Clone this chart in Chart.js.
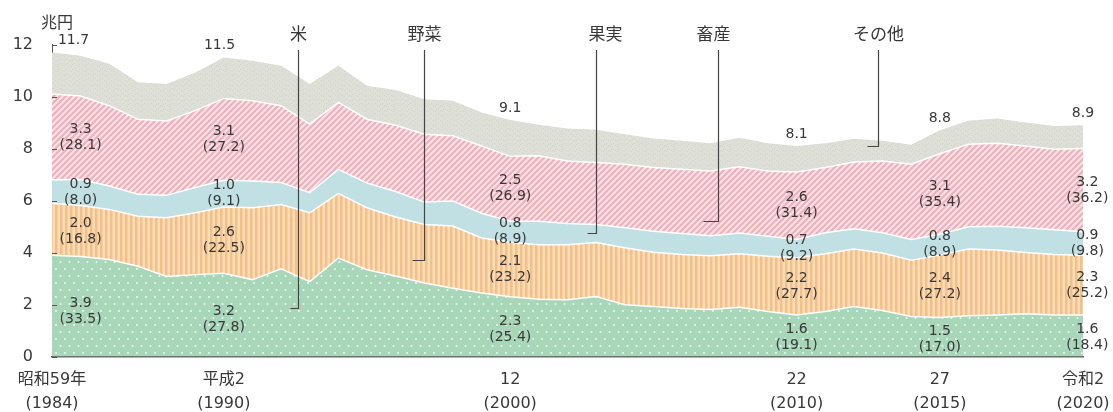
<!DOCTYPE html>
<html lang="ja">
<head>
<meta charset="utf-8">
<title>農業総産出額の推移</title>
<script src="https://cdn.jsdelivr.net/npm/chart.js@4.4.1/dist/chart.umd.min.js"></script>
<style>
	html, body { margin: 0; padding: 0; background: #fff; }
	.chart { position: relative; width: 1113px; height: 412px; }
</style>
</head>
<body>
<div class="chart"><canvas id="chart"></canvas></div>
<script>
const years = [
	1984, 1985, 1986, 1987, 1988, 1989, 1990, 1991, 1992, 1993, 1994, 1995, 1996,
	1997, 1998, 1999, 2000, 2001, 2002, 2003, 2004, 2005, 2006, 2007, 2008,
	2009, 2010, 2011, 2012, 2013, 2014, 2015, 2016, 2017, 2018, 2019, 2020,
];

// 兆円
const rice = [
	3.9, 3.85, 3.73, 3.47, 3.08, 3.15, 3.2, 2.95, 3.37, 2.88, 3.79, 3.34, 3.1,
	2.83, 2.63, 2.44, 2.3, 2.2, 2.18, 2.31, 1.99, 1.92, 1.85, 1.81, 1.89,
	1.73, 1.6, 1.73, 1.92, 1.77, 1.54, 1.5, 1.57, 1.6, 1.64, 1.6, 1.6,
];
const vegetables = [
	2.0, 1.96, 1.93, 1.93, 2.26, 2.38, 2.55, 2.77, 2.48, 2.65, 2.49, 2.38, 2.27,
	2.25, 2.39, 2.12, 2.1, 2.1, 2.12, 2.08, 2.19, 2.09, 2.07, 2.07, 2.06,
	2.13, 2.2, 2.22, 2.22, 2.21, 2.16, 2.4, 2.57, 2.5, 2.36, 2.32, 2.3,
];
const fruit = [
	0.9, 1.0, 0.9, 0.84, 0.86, 0.97, 1.03, 1.03, 0.84, 0.77, 0.92, 0.95, 0.98,
	0.86, 0.96, 0.95, 0.8, 0.9, 0.82, 0.69, 0.77, 0.81, 0.81, 0.77, 0.8,
	0.77, 0.7, 0.81, 0.77, 0.78, 0.8, 0.8, 0.85, 0.91, 0.95, 0.96, 0.9,
];
const livestock = [
	3.3, 3.21, 3.09, 2.89, 2.86, 2.96, 3.15, 3.09, 2.96, 2.64, 2.58, 2.46, 2.55,
	2.61, 2.51, 2.59, 2.5, 2.52, 2.4, 2.38, 2.45, 2.45, 2.47, 2.49, 2.55,
	2.51, 2.6, 2.51, 2.57, 2.76, 2.9, 3.1, 3.18, 3.19, 3.15, 3.09, 3.2,
];
const others = [
	1.6, 1.55, 1.61, 1.42, 1.42, 1.47, 1.57, 1.54, 1.54, 1.54, 1.41, 1.29, 1.35,
	1.35, 1.35, 1.29, 1.4, 1.2, 1.25, 1.26, 1.15, 1.12, 1.1, 1.06, 1.12,
	1.06, 1.0, 0.93, 0.9, 0.78, 0.75, 0.9, 0.9, 0.96, 0.9, 0.9, 0.9,
];

const seriesNames = ["米", "野菜", "果実", "畜産", "その他"];

const tickYears = [1984, 1990, 2000, 2010, 2015, 2020];
const tickEras = ["昭和59年", "平成2", "12", "22", "27", "令和2"];

// labels written inside the bands: amount (share %)
const labelYears = [1984, 1990, 2000, 2010, 2015, 2020];
const totals = ["11.7", "11.5", "9.1", "8.1", "8.8", "8.9"];
const riceAmounts = ["3.9", "3.2", "2.3", "1.6", "1.5", "1.6"];
const riceShares = ["33.5", "27.8", "25.4", "19.1", "17.0", "18.4"];
const vegAmounts = ["2.0", "2.6", "2.1", "2.2", "2.4", "2.3"];
const vegShares = ["16.8", "22.5", "23.2", "27.7", "27.2", "25.2"];
const fruitAmounts = ["0.9", "1.0", "0.8", "0.7", "0.8", "0.9"];
const fruitShares = ["8.0", "9.1", "8.9", "9.2", "8.9", "9.8"];
const livestockAmounts = ["3.3", "3.1", "2.5", "2.6", "3.1", "3.2"];
const livestockShares = ["28.1", "27.2", "26.9", "31.4", "35.4", "36.2"];

const font = "'DejaVu Sans', 'Noto Sans CJK JP', sans-serif";
const jpFont = "'Noto Sans CJK JP', sans-serif";
const ink = "#383838";

const makePattern = (w, h, draw) => {
	const c = document.createElement("canvas");
	c.width = w;
	c.height = h;
	const ctx = c.getContext("2d");
	draw(ctx);
	return ctx.createPattern(c, "repeat");
};

const dots = makePattern(9, 14, ctx => {
	ctx.fillStyle = "#a8d6b9";
	ctx.fillRect(0, 0, 9, 14);
	ctx.fillStyle = "rgba(255,255,255,0.8)";
	[[2, 3], [6.5, 10]].forEach(([x, y]) => {
		ctx.beginPath();
		ctx.arc(x, y, 1, 0, Math.PI * 2);
		ctx.fill();
	});
});

const stripes = makePattern(5, 2, ctx => {
	ctx.fillStyle = "#fbdcb4";
	ctx.fillRect(0, 0, 5, 2);
	ctx.fillStyle = "#f3c08b";
	ctx.fillRect(0, 0, 2.5, 2);
});

const hatch = makePattern(6, 6, ctx => {
	ctx.fillStyle = "#fae3e6";
	ctx.fillRect(0, 0, 6, 6);
	ctx.strokeStyle = "#eeb1bc";
	ctx.lineWidth = 2.2;
	ctx.beginPath();
	ctx.moveTo(0, 6);
	ctx.lineTo(6, 0);
	ctx.moveTo(-1, 1);
	ctx.lineTo(1, -1);
	ctx.moveTo(5, 7);
	ctx.lineTo(7, 5);
	ctx.stroke();
});

const speckle = makePattern(7, 5, ctx => {
	ctx.fillStyle = "#dedfd7";
	ctx.fillRect(0, 0, 7, 5);
	ctx.fillStyle = "#d2d3cb";
	[[1, 1], [4, 3], [6, 0], [2, 4]].forEach(([x, y]) => ctx.fillRect(x, y, 1, 1));
});

const fills = [dots, stripes, "#c0e0e4", hatch, speckle];
const seriesData = [rice, vegetables, fruit, livestock, others];

const datasets = seriesData.map((data, i) => ({
	label: seriesNames[i],
	data,
	backgroundColor: fills[i],
	borderColor: "#fff",
	borderWidth: i === 4 ? 0 : 1.5,
	fill: i ? "-1" : "origin",
	pointRadius: 0,
	tension: 0,
}));

const tickLabel = value => {
	const i = tickYears.indexOf(value);
	return i < 0 ? "" : [tickEras[i], `(${value})`];
};

const stackAt = (idx, upto) =>
	seriesData.slice(0, upto).reduce((sum, d) => sum + d[idx], 0);

// where the 5 leader lines point to
const callouts = [
	{ year: 1992.6, value: 1.87, stub: 8, dx: 0 },
	{ year: 1997.0, value: 3.73, stub: 12, dx: 0 },
	{ year: 2003.0, value: 4.77, stub: 9, dx: 9 },
	{ year: 2007.25, value: 5.23, stub: 15, dx: -5 },
	{ year: 2012.85, value: 8.09, stub: 11, dx: 0 },
];

const annotations = {
	id: "annotations",
	afterDatasetsDraw(chart) {
		const { ctx, chartArea, scales: { x, y } } = chart;
		ctx.save();

		// inward ticks on the y axis
		ctx.strokeStyle = "#555";
		ctx.lineWidth = 1;
		y.ticks.forEach(t => {
			const py = Math.round(y.getPixelForValue(t.value)) + 0.5;
			ctx.beginPath();
			ctx.moveTo(chartArea.left, py);
			ctx.lineTo(chartArea.left + 5, py);
			ctx.stroke();
		});

		ctx.fillStyle = ink;
		ctx.textAlign = "center";
		ctx.textBaseline = "middle";
		ctx.font = `16px ${jpFont}`;
		ctx.fillText("兆円", 57, 22);

		// amounts and shares
		ctx.font = `14px ${font}`;
		const amounts = [riceAmounts, vegAmounts, fruitAmounts, livestockAmounts];
		const shares = [riceShares, vegShares, fruitShares, livestockShares];
		const shift = [1, 0, 0, 0, 0, 0.15];
		const totalShift = [0.75, -0.15, 0, 0, 0, 0];
		labelYears.forEach((year, i) => {
			const idx = years.indexOf(year + Math.round(shift[i]));
			const px = x.getPixelForValue(year + shift[i]);
			amounts.forEach((list, s) => {
				const lower = stackAt(idx, s);
				const upper = lower + seriesData[s][idx];
				const mid = lower + (upper - lower) * (s ? 0.5 : 0.45);
				const py = y.getPixelForValue(mid);
				ctx.fillText(list[i], px, py - 8);
				ctx.fillText(`(${shares[s][i]})`, px, py + 8);
			});
			const tIdx = years.indexOf(year);
			const top = y.getPixelForValue(stackAt(tIdx, 5));
			ctx.fillText(totals[i], x.getPixelForValue(year + totalShift[i]), top - 12);
		});

		// series names with leader lines
		ctx.font = `17px ${jpFont}`;
		ctx.strokeStyle = "#444";
		ctx.lineWidth = 1.2;
		callouts.forEach((c, i) => {
			const px = Math.round(x.getPixelForValue(c.year)) + 0.5;
			const py = Math.round(y.getPixelForValue(c.value)) + 0.5;
			ctx.fillText(seriesNames[i], px + c.dx, 34);
			ctx.beginPath();
			ctx.moveTo(px, 50);
			ctx.lineTo(px, py);
			ctx.lineTo(px - c.stub, py);
			ctx.stroke();
		});

		ctx.restore();
	},
};

new Chart(document.getElementById("chart"), {
	type: "line",
	data: { labels: years, datasets },
	plugins: [annotations],
	options: {
		responsive: true,
		maintainAspectRatio: false,
		animation: false,
		events: [],
		layout: { padding: { top: 44.6, right: 30, left: 0, bottom: 0 } },
		plugins: {
			legend: { display: false },
			tooltip: { enabled: false },
		},
		scales: {
			x: {
				type: "linear",
				min: 1984,
				max: 2020,
				z: 1,
				afterBuildTicks: axis => {
					axis.ticks = tickYears.map(value => ({ value }));
				},
				afterFit: axis => {
					axis.height = 55.5;
					axis.paddingLeft = 0;
					axis.paddingRight = 0;
				},
				grid: { display: false, drawTicks: false },
				border: { display: true, color: "#666", width: 1.5 },
				ticks: {
					callback: value => tickLabel(value),
					autoSkip: false,
					maxRotation: 0,
					padding: 11.5,
					color: ink,
					font: { family: font, size: 16, lineHeight: 1.5 },
				},
			},
			y: {
				stacked: true,
				min: 0,
				max: 12,
				z: 1,
				afterFit: axis => {
					axis.width = 52;
				},
				grid: { display: false, drawTicks: false },
				border: { display: true, color: "#555", width: 1 },
				ticks: {
					stepSize: 2,
					padding: 19,
					color: ink,
					font: { family: font, size: 16 },
				},
			},
		},
	},
});
</script>
</body>
</html>
